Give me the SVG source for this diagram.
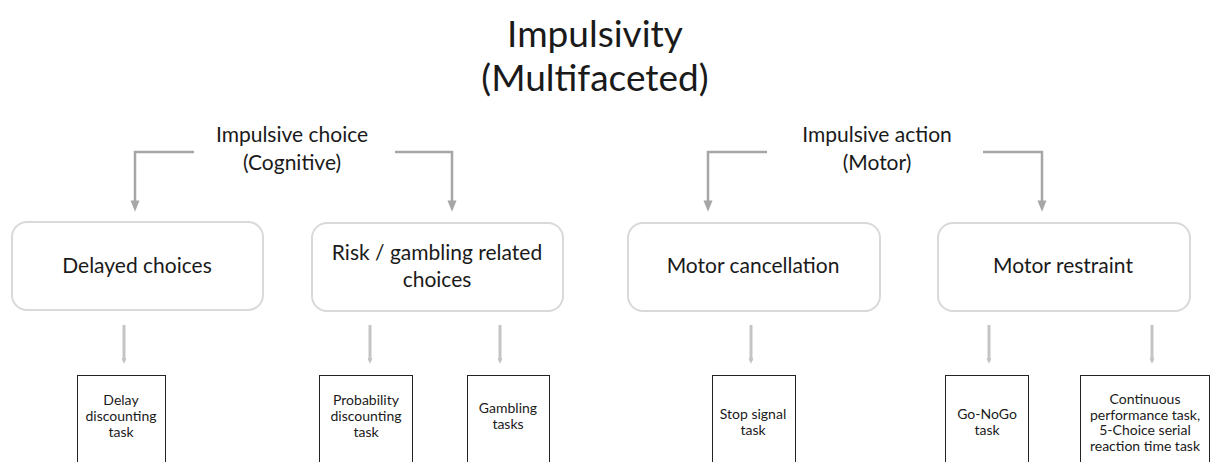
<svg xmlns="http://www.w3.org/2000/svg" width="1211" height="462" viewBox="0 0 1211 462">
<defs>
<style>
text{font-family:Lato,"Liberation Sans",sans-serif;fill:#1a1a1a;text-anchor:middle}
.title{font-size:37px}
.cat{font-size:21px}
.sub{font-size:21px}
.task{font-size:14px}
.rbox{fill:#fff;stroke:#d9d9d9;stroke-width:2}
.tbox{fill:#fff;stroke:#222;stroke-width:1}
.elbow{fill:none;stroke:#a6a6a6;stroke-width:2.5}
.drop{fill:none;stroke:#c4c4c4;stroke-width:3}
</style>
<marker id="ah" viewBox="0 0 10 10" refX="5" refY="5" markerWidth="4.5" markerHeight="4.5" orient="auto" markerUnits="strokeWidth">
<path d="M0,1 L10,5 L0,9 Z" fill="#a6a6a6"/>
</marker>
<marker id="ah2" viewBox="0 0 10 10" refX="5" refY="5" markerWidth="2" markerHeight="2" orient="auto" markerUnits="strokeWidth">
<path d="M0,1 L10,5 L0,9 Z" fill="#c4c4c4"/>
</marker>
</defs>
<rect width="1211" height="462" fill="#fff"/>
<g id="title">
<text class="title" x="595" y="47">Impulsivity</text>
<text class="title" x="595" y="91">(Multifaceted)</text>
</g>
<g id="impulsive-choice">
<text class="cat" x="292" y="142">Impulsive choice</text>
<text class="cat" x="292" y="170">(Cognitive)</text>
</g>
<g id="impulsive-action">
<text class="cat" x="877" y="142">Impulsive action</text>
<text class="cat" x="877" y="170">(Motor)</text>
</g>
<g id="connectors">
<path class="elbow" d="M194,152 H135 V206" marker-end="url(#ah)"/>
<path class="elbow" d="M395,152 H452 V206" marker-end="url(#ah)"/>
<path class="elbow" d="M767,152 H708 V206" marker-end="url(#ah)"/>
<path class="elbow" d="M983,152 H1042 V206" marker-end="url(#ah)"/>
<path class="drop" d="M124,325 V361" marker-end="url(#ah2)"/>
<path class="drop" d="M370,325 V361" marker-end="url(#ah2)"/>
<path class="drop" d="M500,325 V361" marker-end="url(#ah2)"/>
<path class="drop" d="M751,325 V361" marker-end="url(#ah2)"/>
<path class="drop" d="M989,325 V361" marker-end="url(#ah2)"/>
<path class="drop" d="M1152,325 V361" marker-end="url(#ah2)"/>
</g>
<g id="delayed-choices">
<rect class="rbox" x="12" y="222" width="251" height="88" rx="15"/>
<text class="sub" x="137" y="273">Delayed choices</text>
</g>
<g id="risk-choices">
<rect class="rbox" x="312" y="223" width="251" height="88" rx="15"/>
<text class="sub" x="437" y="260">Risk / gambling related</text>
<text class="sub" x="437" y="287">choices</text>
</g>
<g id="motor-cancellation">
<rect class="rbox" x="628" y="223" width="252" height="88" rx="15"/>
<text class="sub" x="753" y="273">Motor cancellation</text>
</g>
<g id="motor-restraint">
<rect class="rbox" x="938" y="223" width="252" height="88" rx="15"/>
<text class="sub" x="1063" y="273">Motor restraint</text>
</g>
<g id="delay-discounting">
<rect class="tbox" x="77.5" y="375.5" width="88" height="100"/>
<text class="task" x="121" y="405">Delay</text>
<text class="task" x="121" y="421">discounting</text>
<text class="task" x="121" y="437">task</text>
</g>
<g id="probability-discounting">
<rect class="tbox" x="319.5" y="375.5" width="93" height="100"/>
<text class="task" x="366" y="405">Probability</text>
<text class="task" x="366" y="421">discounting</text>
<text class="task" x="366" y="437">task</text>
</g>
<g id="gambling-tasks">
<rect class="tbox" x="467.5" y="375.5" width="82" height="100"/>
<text class="task" x="508" y="413">Gambling</text>
<text class="task" x="508" y="429">tasks</text>
</g>
<g id="stop-signal">
<rect class="tbox" x="712.5" y="375.5" width="83" height="100"/>
<text class="task" x="753" y="419">Stop signal</text>
<text class="task" x="753" y="435">task</text>
</g>
<g id="go-nogo">
<rect class="tbox" x="945.5" y="375.5" width="83" height="100"/>
<text class="task" x="987" y="419">Go-NoGo</text>
<text class="task" x="987" y="435">task</text>
</g>
<g id="cpt-5csrtt">
<rect class="tbox" x="1080.5" y="375.5" width="129" height="100"/>
<text class="task" x="1145" y="404">Continuous</text>
<text class="task" x="1145" y="419.5">performance task,</text>
<text class="task" x="1145" y="435">5-Choice serial</text>
<text class="task" x="1145" y="450.5">reaction time task</text>
</g>
</svg>
